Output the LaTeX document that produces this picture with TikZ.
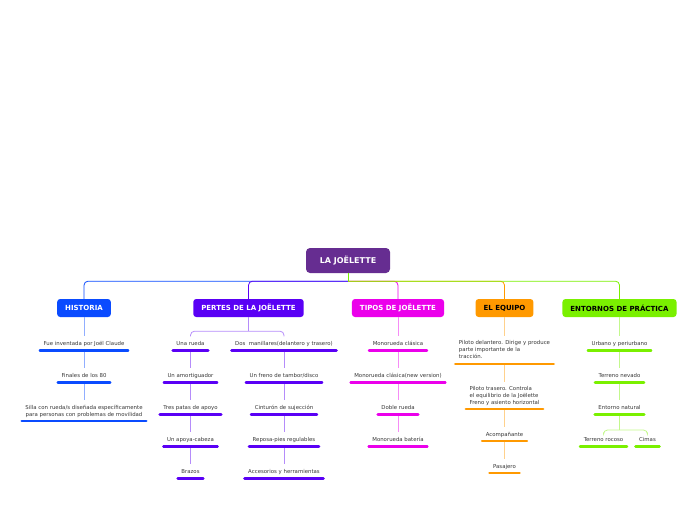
\documentclass[tikz,border=0pt]{standalone}
\usepackage{fontspec}
\setmainfont{DejaVu Sans}
\usetikzlibrary{positioning}

\definecolor{raiz}{RGB}{102,45,145}
\definecolor{historia}{RGB}{10,75,255}
\definecolor{partes}{RGB}{90,0,245}
\definecolor{tipos}{RGB}{235,0,235}
\definecolor{equipo}{RGB}{255,153,0}
\definecolor{entornos}{RGB}{122,240,0}
\definecolor{texto}{RGB}{55,55,55}

\begin{document}
\begin{tikzpicture}[x=1pt, y=-1pt,
  raiz/.style={rectangle, rounded corners=4pt, fill=raiz, text=white, font=\fontsize{8}{9}\selectfont\bfseries, minimum width=84pt, minimum height=25pt},
  tema/.style={rectangle, rounded corners=3pt, fill=#1, text=white, font=\fontsize{7}{8}\selectfont\bfseries, minimum height=18pt, inner xsep=8pt},
  subtema/.style={font=\fontsize{5.4}{7}\selectfont, text=texto, align=center, inner xsep=3.5pt, inner ysep=1pt, outer ysep=3.3pt,
    execute at begin node=\strut, execute at end node=\strut,
    append after command={([yshift=1.3pt]\tikzlastnode.south west) edge[draw=#1, line width=2.6pt, line cap=round] ([yshift=1.3pt]\tikzlastnode.south east)}},
  rama/.style={draw=#1, line width=0.8pt, rounded corners=4pt},
  hilo/.style={draw=#1!45, line width=0.8pt, rounded corners=4pt}]

\useasboundingbox (0,0) rectangle (696,520);

% RAIZ

\node[raiz] (raiz) at (348,260.5) {LA JOËLETTE};
\coordinate[below=8pt of raiz] (cruce);

% TEMAS

\node[tema=historia] (historia) at (84,308) {HISTORIA};
\node[tema=partes] (partes) at (248.5,308) {PERTES DE LA JOËLETTE};
\node[tema=tipos] (tipos) at (398,308) {TIPOS DE JOËLETTE};
\node[tema=equipo, text=black] (equipo) at (504.5,308) {EL EQUIPO};
\node[tema=entornos, text=black] (entornos) at (619.5,308) {ENTORNOS DE PRÁCTICA};

\draw[rama=historia] (cruce) -| (historia);
\draw[rama=partes] (cruce) -| (partes);
\draw[rama=tipos] (cruce) -| (tipos);
\draw[rama=equipo] (cruce) -| (equipo);
\draw[rama=entornos] (cruce) -| (entornos);
\draw[rama=entornos] (raiz) -- (cruce);

% HISTORIA

\node[subtema=historia, below=19.2pt of historia] (hist1) {Fue inventada por Joël Claude};
\node[subtema=historia, below=16.4pt of hist1] (hist2) {Finales de los 80};
\node[subtema=historia, below=16.4pt of hist2] (hist3) {Silla con rueda/s diseñada específicamente\\para personas con problemas de movilidad};

\draw[hilo=historia] (historia) -- (hist1) -- (hist2) -- (hist3);

% PERTES DE LA JOELETTE

\coordinate[below=14pt of partes] (division);

\node[subtema=partes, below=19.2pt of partes, xshift=-58pt] (parte1) {Una rueda};
\node[subtema=partes, below=16.4pt of parte1] (parte2) {Un amortiguador};
\node[subtema=partes, below=16.4pt of parte2] (parte3) {Tres patas de apoyo};
\node[subtema=partes, below=16.4pt of parte3] (parte4) {Un apoya-cabeza};
\node[subtema=partes, below=16.4pt of parte4] (parte5) {Brazos};

\node[subtema=partes, below=19.2pt of partes, xshift=35.5pt] (parte6) {Dos\ \ manillares(delantero y trasero)};
\node[subtema=partes, below=16.4pt of parte6] (parte7) {Un freno de tambor/disco};
\node[subtema=partes, below=16.4pt of parte7] (parte8) {Cinturón de sujección};
\node[subtema=partes, below=16.4pt of parte8] (parte9) {Reposa-pies regulables};
\node[subtema=partes, below=16.4pt of parte9] (parte10) {Accesorios y herramientas};

\draw[hilo=partes] (partes) -- (division);
\draw[hilo=partes] (parte1) |- (division) -| (parte6);
\draw[hilo=partes] (parte1) -- (parte2) -- (parte3) -- (parte4) -- (parte5);
\draw[hilo=partes] (parte6) -- (parte7) -- (parte8) -- (parte9) -- (parte10);

% TIPOS DE JOELETTE

\node[subtema=tipos, below=19.2pt of tipos] (tipo1) {Monorueda clásica};
\node[subtema=tipos, below=16.4pt of tipo1] (tipo2) {Monorueda clásica(new version)};
\node[subtema=tipos, below=16.4pt of tipo2] (tipo3) {Doble rueda};
\node[subtema=tipos, below=16.4pt of tipo3] (tipo4) {Monorueda batería};

\draw[hilo=tipos] (tipos) -- (tipo1) -- (tipo2) -- (tipo3) -- (tipo4);

% EL EQUIPO

\node[subtema=equipo, align=left, below=19.2pt of equipo] (equipo1) {Piloto delantero. Dirige y produce\\parte importante de la\\tracción.};
\node[subtema=equipo, align=left, below=16.4pt of equipo1] (equipo2) {Piloto trasero. Controla\\el equilibrio de la Joëlette\\Freno y asiento horizontal};
\node[subtema=equipo, below=16.4pt of equipo2] (equipo3) {Acompañante};
\node[subtema=equipo, below=16.4pt of equipo3] (equipo4) {Pasajero};

\draw[hilo=equipo] (equipo) -- (equipo1) -- (equipo2) -- (equipo3) -- (equipo4);

% ENTORNOS DE PRACTICA

\node[subtema=entornos, below=19.2pt of entornos] (entorno1) {Urbano y periurbano};
\node[subtema=entornos, below=16.4pt of entorno1] (entorno2) {Terreno nevado};
\node[subtema=entornos, below=16.4pt of entorno2] (entorno3) {Entorno natural};
\coordinate[below=14pt of entorno3] (bifurca);
\node[subtema=entornos, below=16.4pt of entorno3, xshift=-16pt] (entorno4) {Terreno rocoso};
\node[subtema=entornos, below=16.4pt of entorno3, xshift=28pt] (entorno5) {Cimas};

\draw[hilo=entornos] (entornos) -- (entorno1) -- (entorno2) -- (entorno3) -- (bifurca);
\draw[hilo=entornos] (entorno4) |- (bifurca) -| (entorno5);

\end{tikzpicture}
\end{document}
